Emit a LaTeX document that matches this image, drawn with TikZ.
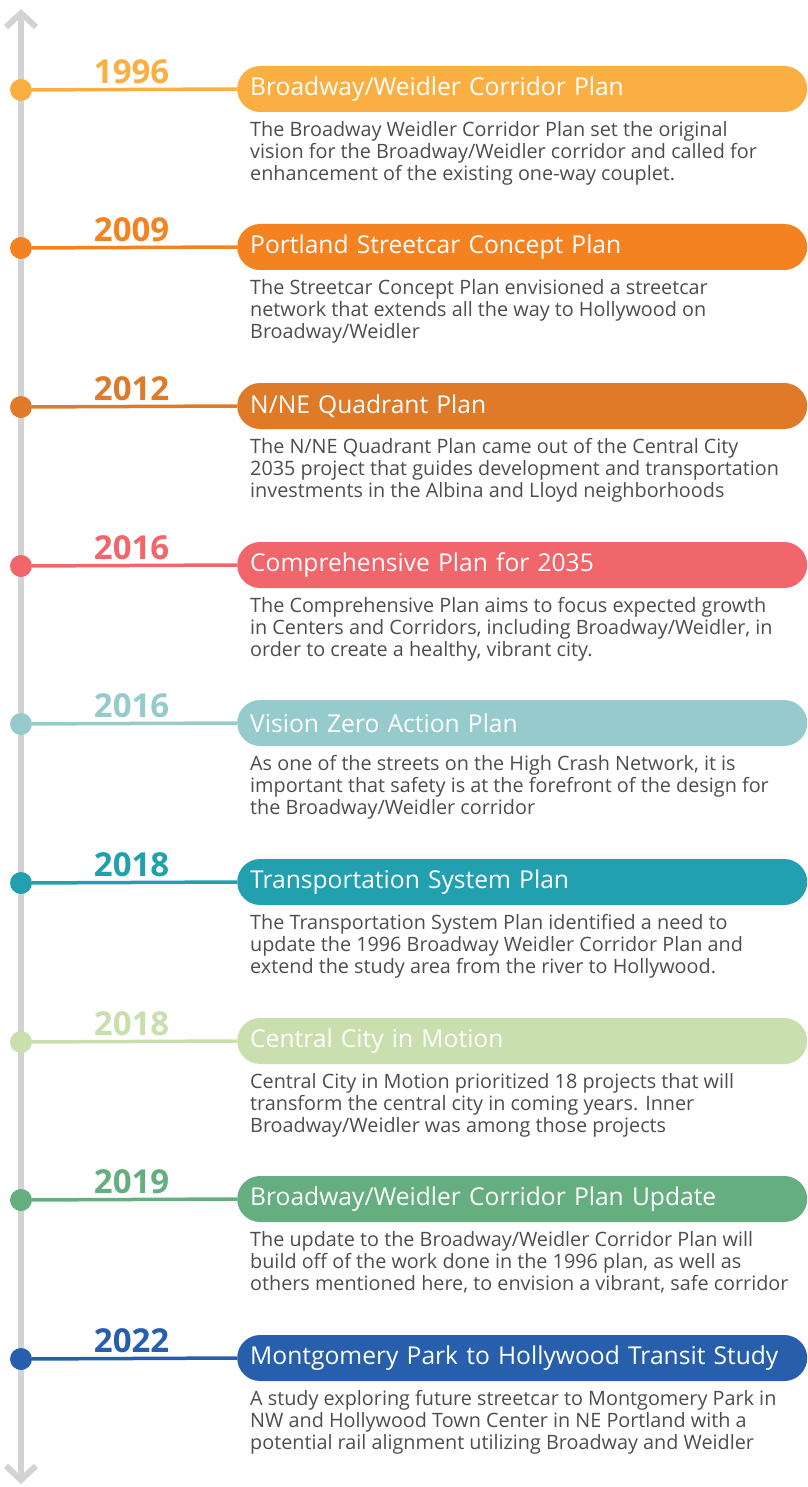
\documentclass[tikz,border=0pt]{standalone}
\usepackage{fontspec}
\setmainfont{Open Sans}
\usetikzlibrary{positioning,arrows.meta}

\definecolor{axisgray}{HTML}{D1D3D4}
\definecolor{bodygray}{HTML}{4D4D4F}
\definecolor{cA}{HTML}{FBAF43}
\definecolor{cB}{HTML}{F58220}
\definecolor{cC}{HTML}{DF7A28}
\definecolor{cD}{HTML}{F0666B}
\definecolor{cE}{HTML}{95CBCD}
\definecolor{cF}{HTML}{22A0B0}
\definecolor{cG}{HTML}{C9DFAE}
\definecolor{cH}{HTML}{64AE7F}
\definecolor{cI}{HTML}{275FAC}

\begin{document}
\begin{tikzpicture}[x=1pt,y=-1pt,
  axis/.style={draw=axisgray, line width=6pt, {Straight Barb[length=14pt,width=30pt,line width=6pt]}-{Straight Barb[length=14pt,width=30pt,line width=6pt]}},
  dotnode/.style={circle, inner sep=0pt, minimum size=22pt},
  link/.style={line width=3.5pt},
  year/.style={font=\fontsize{33}{33}\selectfont\bfseries, inner sep=0pt, above=4pt},
  pill/.style={rounded corners=23pt, minimum height=46pt, minimum width=570pt, inner xsep=13pt, text width=544pt, align=left, text=white, font=\fontsize{24.6}{26}\selectfont},
  body/.style={inner sep=0pt, align=left, text=bodygray, font=\fontsize{19.8}{22}\selectfont}]
\useasboundingbox (0,0) rectangle (807,1487);
\coordinate (axtop) at (21,9);
\coordinate (axbot) at (21,1484);
\draw[axis] (axbot) -- (axtop);
% one entry per plan
\foreach \i/\y/\col/\yr/\ttl/\txt in {
  1/90/cA/1996/{Broadway/Weidler Corridor Plan}/{The Broadway Weidler Corridor Plan set the original\\vision for the Broadway/Weidler corridor and called for\\enhancement of the existing one-way couplet.},
  2/248/cB/2009/{Portland Streetcar Concept Plan}/{The Streetcar Concept Plan envisioned a streetcar\\network that extends all the way to Hollywood on\\Broadway/Weidler},
  3/407/cC/2012/{N/NE Quadrant Plan}/{The N/NE Quadrant Plan came out of the Central City\\2035 project that guides development and transportation\\investments in the Albina and Lloyd neighborhoods},
  4/566/cD/2016/{Comprehensive Plan for 2035}/{The Comprehensive Plan aims to focus expected growth\\in Centers and Corridors, including Broadway/Weidler, in\\order to create a healthy, vibrant city.},
  5/724/cE/2016/{Vision Zero Action Plan}/{As one of the streets on the High Crash Network, it is\\important that safety is at the forefront of the design for\\the Broadway/Weidler corridor},
  6/883/cF/2018/{Transportation System Plan}/{The Transportation System Plan identified a need to\\update the 1996 Broadway Weidler Corridor Plan and\\extend the study area from the river to Hollywood.},
  7/1042/cG/2018/{Central City in Motion}/{Central City in Motion prioritized 18 projects that will\\transform the central city in coming years. Inner\\Broadway/Weidler was among those projects},
  8/1200/cH/2019/{Broadway/Weidler Corridor Plan Update}/{The update to the Broadway/Weidler Corridor Plan will\\build off of the work done in the 1996 plan, as well as\\others mentioned here, to envision a vibrant, safe corridor},
  9/1359/cI/2022/{Montgomery Park to Hollywood Transit Study}/{A study exploring future streetcar to Montgomery Park in\\NW and Hollywood Town Center in NE Portland with a\\potential rail alignment utilizing Broadway and Weidler}}{
  \node[dotnode, fill=\col] (dot\i) at (21,\y) {};
  \node[pill, fill=\col, anchor=west] (pill\i) at (237,\y-1) {\ttl};
  \draw[link, draw=\col] (dot\i) -- node[year, text=\col, xshift=-3pt] (year\i) {\yr} (pill\i.west);
  \node[body, below right=9pt and 13pt of pill\i.south west] (body\i) {\txt};
}
\end{tikzpicture}
\end{document}
